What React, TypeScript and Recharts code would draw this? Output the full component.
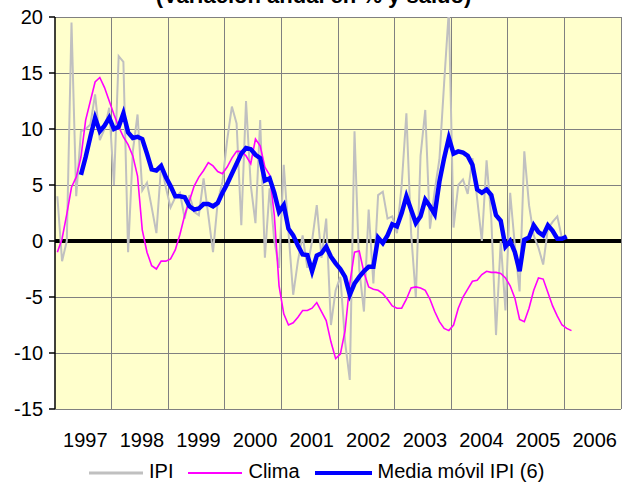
import React from "react";
import {
  LineChart,
  Line,
  XAxis,
  YAxis,
  CartesianGrid,
  ReferenceLine,
  Legend,
} from "recharts";

const FONT = "'Liberation Sans', Arial, sans-serif";

const years = ["1997", "1998", "1999", "2000", "2001", "2002", "2003", "2004", "2005", "2006"];
const yTicks = [-15, -10, -5, 0, 5, 10, 15, 20];

// IPI, variación anual mensual
const ipi = [
  4.0, -1.8, 0.0, 19.5, 4.0, 9.8, 10.0, 10.4, 13.1, 9.0,
  10.0, 11.9, 5.0, 16.5, 16.0, -1.0, 8.0, 11.3, 4.5, 5.2,
  3.0, 0.7, 6.8, 4.8, 3.0, 3.9, 4.3, 2.0, 4.1, 2.6,
  2.3, 5.6, 2.3, -1.0, 3.5, 5.3, 9.0, 12.0, 10.5, 1.4,
  12.5, 5.0, 1.6, 10.8, -1.5, 4.7, 0.0, -2.4, 6.8, 0.8,
  -4.8, -1.8, 0.5, -2.4, 0.0, 3.2, -1.5, 2.0, -7.5, -4.4,
  -3.2, -9.0, -12.4, 9.8, -2.5, -6.3, 2.8, -3.8, 4.1, 4.4,
  2.0, 2.2, 0.7, 5.0, 11.4, 0.7, -5.0, 7.6, 11.7, 1.1,
  4.5, 7.3, 14.1, 20.6, 1.2, 5.0, 5.5, 4.2, 7.4, 3.8,
  0.0, 7.2, 2.0, -8.4, 0.0, -6.2, 4.3, -0.4, -4.5, 8.0,
  3.2, 0.5, -0.6, -2.1, 1.1, 1.7, 2.2, 0.2,
];

// Clima (saldo)
const clima = [
  -1.0, 0.2, 2.4, 4.8, 5.7, 7.5, 10.8, 12.5, 14.2, 14.6,
  13.7, 12.5, 11.3, 10.2, 9.3, 8.6, 7.6, 5.8, 1.0, -1.0,
  -2.2, -2.5, -1.8, -1.8, -1.6, -0.8, 0.6, 2.3, 3.6, 4.9,
  5.7, 6.3, 7.0, 6.7, 6.2, 6.0, 6.6, 7.4, 8.0, 8.0,
  7.6, 6.9, 9.1, 8.5, 6.6, 5.9, 2.3, -4.0, -6.5, -7.5,
  -7.3, -6.8, -6.2, -6.2, -6.0, -5.5, -6.3, -7.1, -9.0, -10.5,
  -10.1, -8.0, -3.8, -1.0, -0.9, -2.8, -4.1, -4.3, -4.4, -4.7,
  -5.2, -5.8, -6.0, -6.0, -5.2, -4.2, -4.1, -4.2, -4.4, -5.2,
  -6.3, -7.2, -7.8, -8.0, -7.5, -6.0, -5.0, -4.3, -3.6, -3.5,
  -3.0, -2.7, -2.8, -2.8, -2.9, -3.3, -4.0, -5.1, -7.0, -7.2,
  -6.0, -4.4, -3.3, -3.4, -4.6, -5.8, -6.7, -7.5, -7.8, -8.0,
];

// Media móvil IPI (6), empieza en el mes 5
const mediaStart = 5;
const media = [
  5.9, 7.5, 9.3, 11.0, 9.8, 10.3, 11.0, 10.0, 10.2, 11.4,
  9.7, 9.2, 9.3, 9.1, 7.8, 6.4, 6.3, 6.7, 5.7, 4.9,
  4.0, 4.0, 3.9, 3.1, 2.8, 2.9, 3.3, 3.3, 3.1, 3.4,
  4.3, 5.1, 6.0, 6.9, 7.8, 8.3, 8.2, 7.7, 7.4, 5.4,
  5.6, 4.3, 2.6, 3.2, 1.1, 0.5, -0.4, -1.2, -1.25, -2.7,
  -1.3, -1.1, -0.5, -1.4, -2.0, -2.5, -3.2, -4.8, -3.8, -3.2,
  -2.7, -2.3, -2.3, 0.3, -0.2, 0.5, 1.5, 1.3, 2.5, 4.0,
  2.8, 1.6, 2.2, 3.7, 3.1, 2.4, 5.3, 7.4, 9.2, 7.8,
  8.0, 7.9, 7.6, 6.8, 4.6, 4.3, 4.6, 4.1, 2.3, 1.8,
  -0.5, 0.0, -1.0, -2.7, 0.1, 0.3, 1.4, 0.8, 0.5, 1.4,
  0.9, 0.2, 0.2, 0.4,
];

const total = Math.max(ipi.length, clima.length, mediaStart + media.length);
const data = Array.from({ length: total }, (_, i) => ({
  i,
  ipi: i < ipi.length ? ipi[i] : null,
  clima: i < clima.length ? clima[i] : null,
  media: i >= mediaStart && i - mediaStart < media.length ? media[i - mediaStart] : null,
}));

const xDomain = [-0.5, 119.5];
const yearTicks = years.map((_, k) => k * 12 + 5.5);
const yearBounds = years.map((_, k) => (k + 1) * 12 - 0.5);

const legendItems = [
  { name: "IPI", color: "#C0C0C0", width: 3, len: 54 },
  { name: "Clima", color: "#FF00FF", width: 2, len: 54 },
  { name: "Media móvil IPI (6)", color: "#0000FF", width: 4, len: 57 },
];

const LegendBox = () => (
  <div
    style={{
      display: "flex",
      alignItems: "center",
      paddingLeft: 89,
      height: 24,
      fontFamily: FONT,
      fontSize: 20,
      color: "#000",
    }}
  >
    {legendItems.map((it) => (
      <div key={it.name} style={{ display: "flex", alignItems: "center", marginRight: 15 }}>
        <svg width={it.len} height={8} style={{ marginTop: 4 }}>
          <line x1={0} y1={4} x2={it.len} y2={4} stroke={it.color} strokeWidth={it.width} />
        </svg>
        <span style={{ marginLeft: 6, whiteSpace: "nowrap" }}>{it.name}</span>
      </div>
    ))}
  </div>
);

export default function App() {
  return (
    <div
      style={{
        position: "absolute",
        left: 0,
        top: 0,
        width: 623,
        height: 489,
        overflow: "hidden",
        background: "#fff",
        fontFamily: FONT,
      }}
    >
      <div
        style={{
          position: "absolute",
          top: -15,
          left: 2,
          width: 623,
          textAlign: "center",
          fontWeight: "bold",
          fontSize: 22,
          lineHeight: "22px",
        }}
      >
        (Variación anual en % y saldo)
      </div>
      <LineChart
        width={623}
        height={489}
        data={data}
        margin={{ top: 17, right: 2, bottom: 6, left: 0 }}
      >
        <CartesianGrid
          stroke="#808080"
          strokeWidth={1}
          shapeRendering="crispEdges"
          fill="#FFFFCC"
          fillOpacity={1}
          verticalValues={yearBounds}
        />
        <XAxis
          type="number"
          dataKey="i"
          domain={xDomain}
          ticks={yearTicks}
          interval={0}
          tickFormatter={(v: number) => years[Math.round((v - 5.5) / 12)]}
          axisLine={false}
          tickLine={false}
          tickSize={0}
          tickMargin={24}
          height={50}
          tick={{ fill: "#000", fontSize: 20, fontFamily: FONT, dx: 2 }}
        />
        <YAxis
          domain={[-15, 20]}
          ticks={yTicks}
          interval={0}
          allowDataOverflow
          width={55}
          axisLine={{ stroke: "#000", strokeWidth: 1.5 }}
          tickLine={{ stroke: "#000", strokeWidth: 1.5 }}
          tickSize={6}
          tickMargin={6}
          tick={{ fill: "#000", fontSize: 20, fontFamily: FONT }}
        />
        <ReferenceLine y={0} stroke="#000" strokeWidth={4} />
        <Line
          dataKey="ipi"
          type="linear"
          stroke="#C0C0C0"
          strokeWidth={2}
          dot={false}
          activeDot={false}
          isAnimationActive={false}
        />
        <Line
          dataKey="clima"
          type="linear"
          stroke="#FF00FF"
          strokeWidth={1.6}
          dot={false}
          activeDot={false}
          isAnimationActive={false}
        />
        <Line
          dataKey="media"
          type="linear"
          stroke="#0000FF"
          strokeWidth={4.5}
          dot={false}
          activeDot={false}
          isAnimationActive={false}
        />
        <Legend
          verticalAlign="bottom"
          height={24}
          wrapperStyle={{ left: 0, width: 623 }}
          content={() => <LegendBox />}
        />
      </LineChart>
    </div>
  );
}
